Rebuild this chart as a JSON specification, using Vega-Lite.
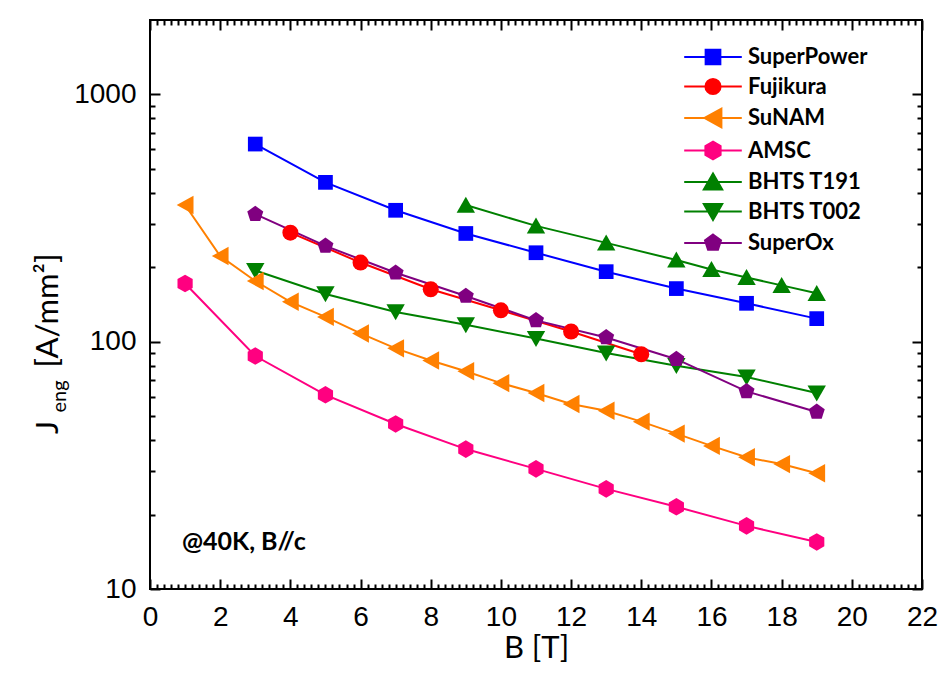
{
  "$schema": "https://vega.github.io/schema/vega-lite/v6.json",
  "width": 772,
  "height": 569,
  "autosize": {"type": "none"},
  "padding": {"left": 150, "top": 20, "right": 19, "bottom": 103},
  "background": "white",
  "config": {
    "view": {"stroke": "black", "strokeWidth": 2},
    "axis": {
      "grid": false, "domain": false, "tickColor": "black", "tickWidth": 2,
      "labelColor": "black", "titleColor": "black",
      "labelFont": "Liberation Sans", "labelFontSize": 28,
      "titleFont": "Lato", "titleFontSize": 31, "titleFontWeight": "normal",
      "labelFlush": false, "labelOverlap": false
    },
    "legend": {
      "orient": "none", "legendX": 552, "legendY": 26, "padding": 0,
      "labelFont": "Lato", "labelFontSize": 22, "labelFontWeight": "bold", "labelColor": "black",
      "rowPadding": 5.5, "symbolSize": 256, "labelOffset": 24, "symbolStrokeWidth": 2
    }
  },
  "datasets": {
    "d": [
      {"series": "AMSC", "B": 1, "J": 172},
      {"series": "AMSC", "B": 3, "J": 87.5},
      {"series": "AMSC", "B": 5, "J": 61},
      {"series": "AMSC", "B": 7, "J": 46.5},
      {"series": "AMSC", "B": 9, "J": 36.8},
      {"series": "AMSC", "B": 11, "J": 30.6},
      {"series": "AMSC", "B": 13, "J": 25.4},
      {"series": "AMSC", "B": 15, "J": 21.5},
      {"series": "AMSC", "B": 17, "J": 18.0},
      {"series": "AMSC", "B": 19, "J": 15.5},
      {"series": "BHTS T002", "B": 3, "J": 194},
      {"series": "BHTS T002", "B": 5, "J": 156},
      {"series": "BHTS T002", "B": 7, "J": 132},
      {"series": "BHTS T002", "B": 9, "J": 117},
      {"series": "BHTS T002", "B": 11, "J": 103},
      {"series": "BHTS T002", "B": 13, "J": 90},
      {"series": "BHTS T002", "B": 15, "J": 80},
      {"series": "BHTS T002", "B": 17, "J": 72},
      {"series": "BHTS T002", "B": 19, "J": 62},
      {"series": "SuNAM", "B": 1, "J": 357},
      {"series": "SuNAM", "B": 2, "J": 222},
      {"series": "SuNAM", "B": 3, "J": 176},
      {"series": "SuNAM", "B": 4, "J": 145},
      {"series": "SuNAM", "B": 5, "J": 126},
      {"series": "SuNAM", "B": 6, "J": 108},
      {"series": "SuNAM", "B": 7, "J": 94},
      {"series": "SuNAM", "B": 8, "J": 84},
      {"series": "SuNAM", "B": 9, "J": 76},
      {"series": "SuNAM", "B": 10, "J": 68},
      {"series": "SuNAM", "B": 11, "J": 62},
      {"series": "SuNAM", "B": 12, "J": 56},
      {"series": "SuNAM", "B": 13, "J": 52.6},
      {"series": "SuNAM", "B": 14, "J": 47.5},
      {"series": "SuNAM", "B": 15, "J": 42.5},
      {"series": "SuNAM", "B": 16, "J": 37.9},
      {"series": "SuNAM", "B": 17, "J": 34.1},
      {"series": "SuNAM", "B": 18, "J": 32.0},
      {"series": "SuNAM", "B": 19, "J": 29.4},
      {"series": "SuperPower", "B": 3, "J": 630},
      {"series": "SuperPower", "B": 5, "J": 441},
      {"series": "SuperPower", "B": 7, "J": 340},
      {"series": "SuperPower", "B": 9, "J": 274},
      {"series": "SuperPower", "B": 11, "J": 229},
      {"series": "SuperPower", "B": 13, "J": 192},
      {"series": "SuperPower", "B": 15, "J": 164},
      {"series": "SuperPower", "B": 17, "J": 143},
      {"series": "SuperPower", "B": 19, "J": 124},
      {"series": "BHTS T191", "B": 9, "J": 357},
      {"series": "BHTS T191", "B": 11, "J": 294},
      {"series": "BHTS T191", "B": 13, "J": 251},
      {"series": "BHTS T191", "B": 15, "J": 214},
      {"series": "BHTS T191", "B": 16, "J": 196},
      {"series": "BHTS T191", "B": 17, "J": 182},
      {"series": "BHTS T191", "B": 18, "J": 169},
      {"series": "BHTS T191", "B": 19, "J": 157},
      {"series": "Fujikura", "B": 4, "J": 276},
      {"series": "Fujikura", "B": 6, "J": 209},
      {"series": "Fujikura", "B": 8, "J": 163},
      {"series": "Fujikura", "B": 10, "J": 134},
      {"series": "Fujikura", "B": 12, "J": 110},
      {"series": "Fujikura", "B": 14, "J": 89},
      {"series": "SuperOx", "B": 3, "J": 328},
      {"series": "SuperOx", "B": 5, "J": 244},
      {"series": "SuperOx", "B": 7, "J": 190},
      {"series": "SuperOx", "B": 9, "J": 153},
      {"series": "SuperOx", "B": 11, "J": 122},
      {"series": "SuperOx", "B": 13, "J": 104},
      {"series": "SuperOx", "B": 15, "J": 85},
      {"series": "SuperOx", "B": 17, "J": 63},
      {"series": "SuperOx", "B": 19, "J": 52}
    ]
  },
  "layer": [
    {
      "data": {"name": "d"},
      "mark": {"type": "line", "strokeWidth": 2},
      "encoding": {
        "x": {"field": "B", "type": "quantitative",
          "scale": {"domain": [0, 22], "nice": false, "zero": false},
          "axis": {"orient": "bottom", "values": [0,2,4,6,8,10,12,14,16,18,20,22], "format": "d", "tickSize": -10, "labelPadding": 24,
            "title": "B [T]", "titleBaseline": "alphabetic", "titleY": 68}},
        "y": {"field": "J", "type": "quantitative",
          "scale": {"type": "log", "domain": [10, 2000], "nice": false},
          "axis": {"orient": "left", "values": [10, 100, 1000], "format": "d", "tickSize": -10, "labelPadding": 24,
            "title": "J", "titleAngle": -90, "titleAlign": "center", "titleBaseline": "alphabetic", "titleX": -93, "titleY": 407}},
        "color": {"field": "series", "type": "nominal",
          "scale": {"domain": ["SuperPower", "Fujikura", "SuNAM", "AMSC", "BHTS T191", "BHTS T002", "SuperOx"],
            "range": ["#0000FF", "#FF0000", "#FF8000", "#FF0080", "#008000", "#008000", "#800080"]},
          "legend": null}
      }
    },
    {
      "data": {"name": "d"},
      "mark": {"type": "point", "filled": true, "size": 256, "opacity": 1, "strokeWidth": 0},
      "encoding": {
        "x": {"field": "B", "type": "quantitative",
          "scale": {"domain": [0, 22], "nice": false, "zero": false},
          "axis": {"orient": "bottom", "values": [0.2,0.4,0.6,0.8,1,1.2,1.4,1.6,1.8,2.2,2.4,2.6,2.8,3,3.2,3.4,3.6,3.8,4.2,4.4,4.6,4.8,5,5.2,5.4,5.6,5.8,6.2,6.4,6.6,6.8,7,7.2,7.4,7.6,7.8,8.2,8.4,8.6,8.8,9,9.2,9.4,9.6,9.8,10.2,10.4,10.6,10.8,11,11.2,11.4,11.6,11.8,12.2,12.4,12.6,12.8,13,13.2,13.4,13.6,13.8,14.2,14.4,14.6,14.8,15,15.2,15.4,15.6,15.8,16.2,16.4,16.6,16.8,17,17.2,17.4,17.6,17.8,18.2,18.4,18.6,18.8,19,19.2,19.4,19.6,19.8,20.2,20.4,20.6,20.8,21,21.2,21.4,21.6,21.8], "tickSize": -5, "labels": false, "title": null}},
        "y": {"field": "J", "type": "quantitative",
          "scale": {"type": "log", "domain": [10, 2000], "nice": false},
          "axis": {"orient": "left", "values": [20,30,40,50,60,70,80,90,200,300,400,500,600,700,800,900], "tickSize": -5, "labels": false,
            "title": "eng", "titleFontSize": 20, "titleAngle": -90, "titleAlign": "center", "titleBaseline": "alphabetic", "titleX": -85, "titleY": 376}},
        "color": {"field": "series", "type": "nominal",
          "scale": {"domain": ["SuperPower", "Fujikura", "SuNAM", "AMSC", "BHTS T191", "BHTS T002", "SuperOx"],
            "range": ["#0000FF", "#FF0000", "#FF8000", "#FF0080", "#008000", "#008000", "#800080"]},
          "legend": null},
        "shape": {"field": "series", "type": "nominal",
          "scale": {"domain": ["SuperPower", "Fujikura", "SuNAM", "AMSC", "BHTS T191", "BHTS T002", "SuperOx"],
            "range": [
              "M-0.92,-0.92H0.92V0.92H-0.92Z",
              "circle",
              "M-1.05,0L1.05,-1.15L1.05,1.15Z",
              "M0,-1.1L0.95,-0.55L0.95,0.55L0,1.1L-0.95,0.55L-0.95,-0.55Z",
              "M0,-1.05L1.15,0.95L-1.15,0.95Z",
              "M0,1.05L1.15,-0.95L-1.15,-0.95Z",
              "M0,-1.05L1,-0.33L0.62,0.85L-0.62,0.85L-1,-0.33Z"
            ]},
          "legend": null}
      }
    },
    {
      "data": {"name": "d"},
      "transform": [{"filter": "false"}],
      "mark": {"type": "point", "filled": true, "size": 256, "opacity": 1, "strokeWidth": 2},
      "encoding": {
        "x": {"field": "B", "type": "quantitative",
          "scale": {"domain": [0, 22], "nice": false, "zero": false},
          "axis": {"orient": "top", "values": [0,2,4,6,8,10,12,14,16,18,20,22], "tickSize": -10, "labels": false, "title": null}},
        "y": {"field": "J", "type": "quantitative",
          "scale": {"type": "log", "domain": [10, 2000], "nice": false},
          "axis": {"orient": "right", "values": [10, 100, 1000], "tickSize": -10, "labels": false, "title": null}},
        "fill": {"field": "series", "type": "nominal",
          "scale": {"domain": ["SuperPower", "Fujikura", "SuNAM", "AMSC", "BHTS T191", "BHTS T002", "SuperOx"],
            "range": ["#0000FF", "#FF0000", "#FF8000", "#FF0080", "#008000", "#008000", "#800080"]},
          "legend": {"title": null}},
        "stroke": {"field": "series", "type": "nominal",
          "scale": {"domain": ["SuperPower", "Fujikura", "SuNAM", "AMSC", "BHTS T191", "BHTS T002", "SuperOx"],
            "range": ["#0000FF", "#FF0000", "#FF8000", "#FF0080", "#008000", "#008000", "#800080"]},
          "legend": {"title": null}},
        "shape": {"field": "series", "type": "nominal",
          "scale": {"domain": ["SuperPower", "Fujikura", "SuNAM", "AMSC", "BHTS T191", "BHTS T002", "SuperOx"],
            "range": [
              "M-3.6,0H3.6M-0.92,-0.92H0.92V0.92H-0.92Z",
              "M-3.6,0H3.6M-0.95,0A0.95,0.95,0,1,1,0.95,0A0.95,0.95,0,1,1,-0.95,0Z",
              "M-3.6,0H3.6M-1.05,0L1.05,-1.15L1.05,1.15Z",
              "M-3.6,0H3.6M0,-1.1L0.95,-0.55L0.95,0.55L0,1.1L-0.95,0.55L-0.95,-0.55Z",
              "M-3.6,0H3.6M0,-1.05L1.15,0.95L-1.15,0.95Z",
              "M-3.6,0H3.6M0,1.05L1.15,-0.95L-1.15,-0.95Z",
              "M-3.6,0H3.6M0,-1.05L1,-0.33L0.62,0.85L-0.62,0.85L-1,-0.33Z"
            ]},
          "legend": {"title": null}}
      }
    },
    {
      "data": {"values": [{}]},
      "mark": {"type": "text", "text": "@40K, B//c", "font": "Lato", "fontWeight": "bold", "fontSize": 25, "align": "left", "baseline": "alphabetic", "color": "black"},
      "encoding": {
        "x": {"datum": 0.91, "type": "quantitative",
          "scale": {"domain": [0, 22], "nice": false, "zero": false},
          "axis": {"orient": "top", "values": [0.2,0.4,0.6,0.8,1,1.2,1.4,1.6,1.8,2.2,2.4,2.6,2.8,3,3.2,3.4,3.6,3.8,4.2,4.4,4.6,4.8,5,5.2,5.4,5.6,5.8,6.2,6.4,6.6,6.8,7,7.2,7.4,7.6,7.8,8.2,8.4,8.6,8.8,9,9.2,9.4,9.6,9.8,10.2,10.4,10.6,10.8,11,11.2,11.4,11.6,11.8,12.2,12.4,12.6,12.8,13,13.2,13.4,13.6,13.8,14.2,14.4,14.6,14.8,15,15.2,15.4,15.6,15.8,16.2,16.4,16.6,16.8,17,17.2,17.4,17.6,17.8,18.2,18.4,18.6,18.8,19,19.2,19.4,19.6,19.8,20.2,20.4,20.6,20.8,21,21.2,21.4,21.6,21.8], "tickSize": -5, "labels": false, "title": null}},
        "y": {"datum": 14.4, "type": "quantitative",
          "scale": {"type": "log", "domain": [10, 2000], "nice": false},
          "axis": {"orient": "right", "values": [20,30,40,50,60,70,80,90,200,300,400,500,600,700,800,900], "tickSize": -5, "labels": false, "title": null}}
      }
    },
    {
      "data": {"values": [{}]},
      "mark": {"type": "text", "text": ""},
      "encoding": {
        "x": {"datum": 1, "type": "quantitative",
          "scale": {"domain": [0, 22], "nice": false, "zero": false}, "axis": null},
        "y": {"datum": 100, "type": "quantitative",
          "scale": {"type": "log", "domain": [10, 2000], "nice": false},
          "axis": {"orient": "left", "ticks": false, "labels": false, "values": [100],
            "title": "[A/mm²]", "titleAngle": -90, "titleAlign": "center", "titleBaseline": "alphabetic", "titleX": -93, "titleY": 290}}
      }
    }
  ],
  "resolve": {
    "axis": {"x": "independent", "y": "independent"},
    "scale": {"color": "independent", "shape": "independent", "fill": "independent", "stroke": "independent"}
  }
}
